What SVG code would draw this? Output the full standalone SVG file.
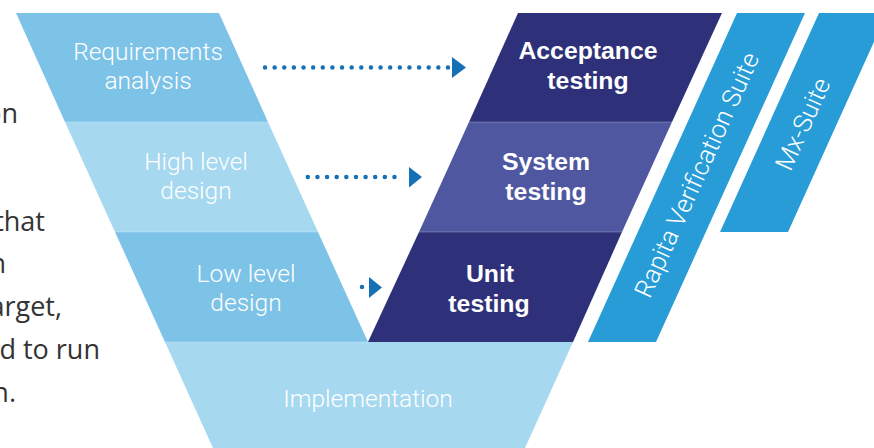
<svg xmlns="http://www.w3.org/2000/svg" width="874" height="448" viewBox="0 0 874 448">
  <style>
    .lt { fill: #7dc2e7; }
    .ll { fill: #a6d8f0; }
    .dk { fill: #2e3179; }
    .md { fill: #4f57a1; }
    .st { fill: #279cd7; }
    .sep { stroke: #ffffff; stroke-opacity: 0.25; stroke-width: 1; }
    .lbl { font-family: Roboto, "Liberation Sans", sans-serif; font-weight: 300; font-size: 24.5px; fill: #ffffff; text-anchor: middle; }
    .rot { font-size: 25.5px; }
    .blbl { font-family: "Liberation Sans", Arial, sans-serif; font-weight: bold; font-size: 24.8px; fill: #ffffff; text-anchor: middle; }
    .body { font-family: "Open Sans", "Noto Sans", sans-serif; font-size: 27px; fill: #333333; text-anchor: end; }
    .dots { stroke: #1670b6; stroke-width: 4.5; stroke-linecap: round; stroke-dasharray: 0 9.63; fill: none; }
    .head { fill: #1670b6; }
  </style>
  <rect width="874" height="448" fill="#ffffff"/>

  <g id="body-text">
    <text class="body" x="18" y="123">on</text>
    <text class="body" x="45" y="231">that</text>
    <text class="body" x="6" y="273">n</text>
    <text class="body" x="62" y="316">arget,</text>
    <text class="body" x="100" y="359">d to run</text>
    <text class="body" x="16" y="402">n.</text>
  </g>

  <g id="requirements-analysis">
    <polygon class="lt" points="16,13 219,13 268,122 65,122"/>
    <text class="lbl" x="148" y="60">Requirements</text>
    <text class="lbl" x="148" y="89">analysis</text>
  </g>
  <g id="high-level-design">
    <polygon class="ll" points="65,122 268,122 318,232 115,232"/>
    <text class="lbl" x="196" y="170">High level</text>
    <text class="lbl" x="196" y="199">design</text>
  </g>
  <g id="low-level-design">
    <polygon class="lt" points="115,232 318,232 368,342 165,342"/>
    <text class="lbl" x="246" y="282">Low level</text>
    <text class="lbl" x="246" y="311">design</text>
  </g>
  <g id="implementation">
    <polygon class="ll" points="165,342 573,342 525,448 213,448"/>
    <text class="lbl" x="368" y="407">Implementation</text>
  </g>
  <g id="acceptance-testing">
    <polygon class="dk" points="518,13 722,13 672,122 469,122"/>
    <text class="blbl" x="588" y="59">Acceptance</text>
    <text class="blbl" x="588" y="89">testing</text>
  </g>
  <g id="system-testing">
    <polygon class="md" points="469,122 672,122 622,232 419,232"/>
    <text class="blbl" x="546" y="170">System</text>
    <text class="blbl" x="546" y="200">testing</text>
  </g>
  <g id="unit-testing">
    <polygon class="dk" points="419,232 622,232 573,342 368,342"/>
    <text class="blbl" x="490" y="282">Unit</text>
    <text class="blbl" x="489" y="312">testing</text>
  </g>
  <g id="separators">
    <line class="sep" x1="65" y1="122" x2="268" y2="122"/>
    <line class="sep" x1="115" y1="232" x2="318" y2="232"/>
    <line class="sep" x1="165" y1="342" x2="368" y2="342"/>
    <line class="sep" x1="469" y1="122" x2="672" y2="122"/>
    <line class="sep" x1="419" y1="232" x2="622" y2="232"/>
  </g>
  <g id="rapita-verification-suite">
    <polygon class="st" points="737,13 805,13 656,342 588,342"/>
    <text class="lbl rot" transform="translate(697,175) rotate(-65.6)" x="0" y="8.5">Rapita Verification Suite</text>
  </g>
  <g id="mx-suite">
    <polygon class="st" points="819,13 887,13 788,232 720,232"/>
    <text class="lbl rot" transform="translate(803,124) rotate(-65.6)" x="0" y="8.5">Mx-Suite</text>
  </g>

  <g id="connectors">
    <line class="dots" x1="265" y1="67.5" x2="448.5" y2="67.5"/>
    <polygon class="head" points="452,57 466,67.5 452,78"/>
    <line class="dots" x1="307.8" y1="177" x2="404" y2="177"/>
    <polygon class="head" points="409,167 422,177 409,187.5"/>
    <line class="dots" x1="362" y1="287" x2="362.1" y2="287"/>
    <polygon class="head" points="369,277 382,287.5 369,298"/>
  </g>
</svg>
